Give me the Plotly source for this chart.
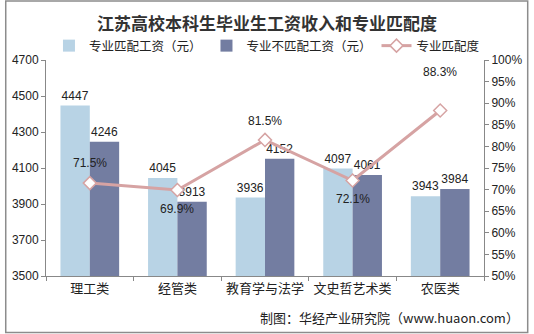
import plotly.graph_objects as go

categories = ["理工类", "经管类", "教育学与法学", "文史哲艺术类", "农医类"]
match_pay = [4447, 4045, 3936, 4097, 3943]
mismatch_pay = [4246, 3913, 4152, 4061, 3984]
match_rate = [71.5, 69.9, 81.5, 72.1, 88.3]
left_ticks = [3500, 3700, 3900, 4100, 4300, 4500, 4700]
right_ticks = list(range(50, 101, 5))
rate_label_shift = [20, -19, 19, -18, 39]

W, H = 534, 334
L, R, T, B = 42, 46, 60, 58
pw, ph = W - L - R, H - T - B

font = "Liberation Sans, Arial, Noto Sans CJK SC, sans-serif"
cjk = "Noto Sans CJK SC, Liberation Sans, sans-serif"

fig = go.Figure()
fig.add_trace(go.Bar(
    x=categories, y=match_pay, name="专业匹配工资（元）",
    marker=dict(color="#B8D3E5", line=dict(width=0)),
    text=[str(v) for v in match_pay], textposition="outside",
    textfont=dict(size=12, color="#222", family=font), cliponaxis=False,
))
fig.add_trace(go.Bar(
    x=categories, y=mismatch_pay, name="专业不匹配工资（元）",
    marker=dict(color="#737DA1", line=dict(width=0)),
    text=[str(v) for v in mismatch_pay], textposition="outside",
    textfont=dict(size=12, color="#222", family=font), cliponaxis=False,
))
fig.add_trace(go.Scatter(
    x=categories, y=match_rate, name="专业匹配度", yaxis="y2",
    mode="lines+markers",
    line=dict(color="#D6A3A3", width=3),
    marker=dict(symbol="diamond", size=10, color="white", line=dict(color="#D6A3A3", width=1.5)),
    cliponaxis=False,
))
for c, v, s in zip(categories, match_rate, rate_label_shift):
    fig.add_annotation(x=c, y=v, xref="x", yref="y2", text=f"{v:.1f}%", showarrow=False,
                       yshift=s, xanchor="center", yanchor="middle",
                       font=dict(size=12, color="#222", family=font))

# outer frame
fig.add_shape(type="rect", xref="paper", yref="paper",
              x0=(-L + 1) / pw, x1=(pw + R - 1.5) / pw,
              y0=(-B + 1.5) / ph, y1=(ph + T - 1) / ph,
              line=dict(color="#8C8C8C", width=1.5), layer="below")

fig.add_annotation(text="<b>江苏高校本科生毕业生工资收入和专业匹配度</b>", xref="paper", yref="paper",
                   x=(W / 2 - L) / pw, y=(ph + T - 22) / ph, xanchor="center", yanchor="middle",
                   showarrow=False, font=dict(size=17, color="#333", family=cjk))
fig.add_annotation(text="制图：华经产业研究院（www.huaon.com）", xref="paper", yref="paper",
                   x=(526 - L) / pw, y=-(317 - (H - B)) / ph, xanchor="right", yanchor="middle",
                   showarrow=False, font=dict(size=13, color="#222", family=cjk))

fig.update_layout(
    width=W, height=H, margin=dict(l=L, r=R, t=T, b=B),
    paper_bgcolor="white", plot_bgcolor="white",
    barmode="group", bargap=0.33, bargroupgap=0,
    showlegend=True,
    legend=dict(orientation="h", x=(W / 2 - L) / pw, xanchor="center", y=(ph + T - 46) / ph, yanchor="middle",
                font=dict(size=12.5, color="#222", family=cjk), itemwidth=30, traceorder="normal",
                bgcolor="rgba(0,0,0,0)", tracegroupgap=0),
    xaxis=dict(showline=True, linecolor="#888", linewidth=1, ticks="outside", tickson="boundaries",
               ticklen=4, tickcolor="#888", tickfont=dict(size=13, color="#222", family=cjk),
               showgrid=False),
    yaxis=dict(range=[3500, 4700], tickvals=left_ticks, showline=True, linecolor="#888", linewidth=1,
               ticks="outside", ticklen=4, tickcolor="#888", showgrid=False, zeroline=False,
               tickfont=dict(size=12, color="#222", family=font)),
    yaxis2=dict(range=[50, 100], tickvals=right_ticks, ticktext=[f"{v}%" for v in right_ticks],
                overlaying="y", side="right", showline=True, linecolor="#888", linewidth=1,
                ticks="outside", ticklen=4, tickcolor="#888", showgrid=False, zeroline=False,
                tickfont=dict(size=12, color="#222", family=font)),
)

fig.write_html("out.html")
